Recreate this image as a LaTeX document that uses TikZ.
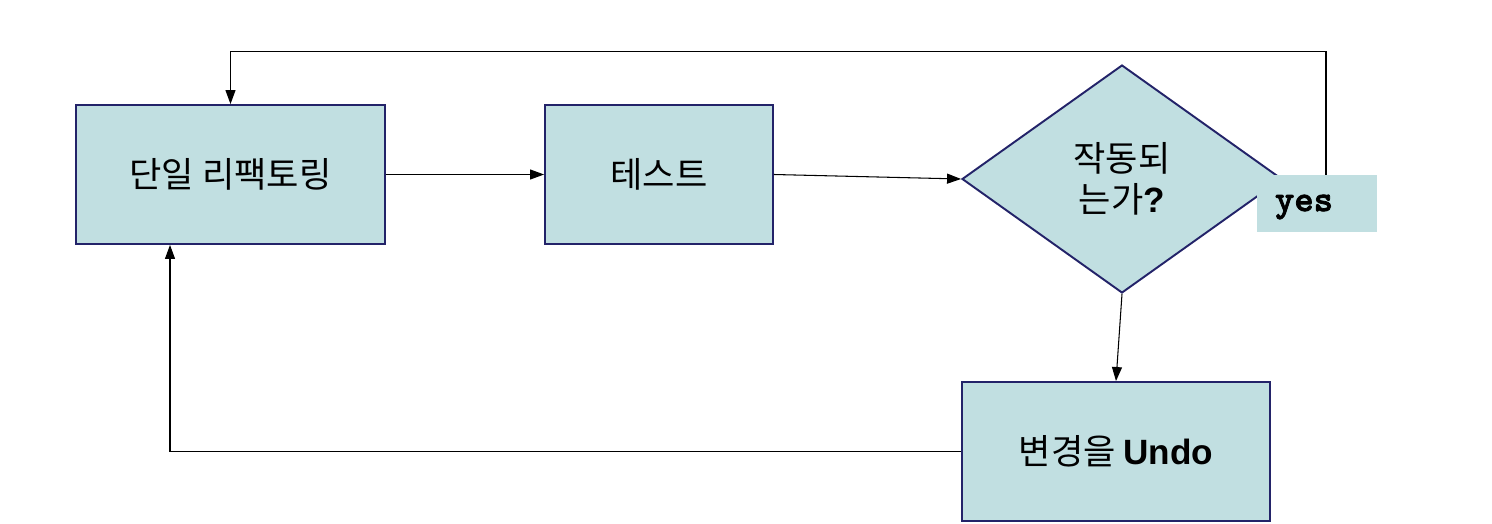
\documentclass[tikz,border=0pt]{standalone}
\usepackage{fontspec}
\setmainfont{Noto Sans CJK KR}
\newfontfamily\arialfont{Liberation Sans}
\newfontfamily\courierfont{lmmonolt10-bold.otf}[FakeBold=2]
\usetikzlibrary{shapes.geometric,arrows.meta}
\definecolor{boxfill}{RGB}{193,223,225}
\definecolor{boxline}{RGB}{35,35,105}
\tikzset{
  stepbox/.style={draw=boxline,fill=boxfill,line width=1.1pt,font=\fontsize{20}{26}\selectfont},
  flow/.style={line width=0.6pt,-{Triangle[length=0.28cm,width=0.2cm]}}
}
\begin{document}
\begin{tikzpicture}[x=0.02cm,y=-0.02cm]
\useasboundingbox (0,0) rectangle (1492,524);
% boxes
\node[stepbox,minimum width=6.18cm,minimum height=2.78cm] (refac) at (230.5,174.5) {단일 리팩토링};
\node[stepbox,minimum width=4.56cm,minimum height=2.78cm] (test) at (659,174.5) {테스트};
\node[stepbox,diamond,minimum width=6.4cm,minimum height=4.56cm,inner sep=0pt,align=center] (works) at (1122,179) {작동되\\[-3pt]는가{\arialfont\bfseries ?}};
\node[stepbox,minimum width=6.16cm,minimum height=2.78cm] (undo) at (1116,451.5) {변경을 {\arialfont\bfseries Undo}};
\node[fill=boxfill,minimum width=2.4cm,minimum height=1.14cm] (yes) at (1317,203.5) {};
\node[font=\fontsize{21}{26}\selectfont\courierfont] (yeslabel) at (1304,207) {yes};
% connectors
\draw[flow] (refac.east) -- (test.west);
\draw[flow] (test.east) -- (works.west);
\draw[flow] (works.south) -- (undo.north);
\draw[flow] (undo.west) -| ([xshift=-1.21cm]refac.south);
\draw[flow] ([xshift=0.18cm]yes.north) -- ++(0,-123) -| (refac.north);
\end{tikzpicture}
\end{document}
